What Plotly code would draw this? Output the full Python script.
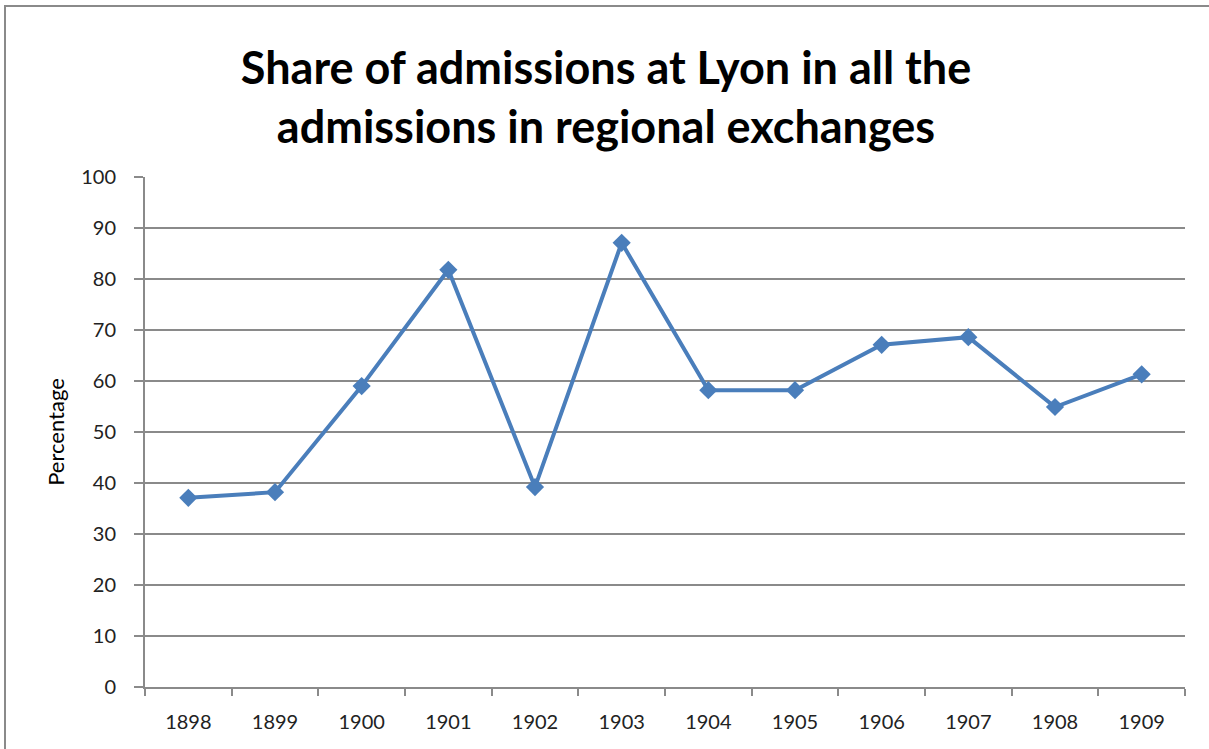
import plotly.graph_objects as go

years = ["1898", "1899", "1900", "1901", "1902", "1903", "1904", "1905", "1906", "1907", "1908", "1909"]
percentage = [37.1, 38.2, 59.0, 81.8, 39.2, 87.1, 58.2, 58.2, 67.1, 68.6, 54.9, 61.3]
y_ticks = [0, 10, 20, 30, 40, 50, 60, 70, 80, 90, 100]

W, H = 1209, 749
L, R, T, B = 145, 24, 177, 62
pw, ph = W - L - R, H - T - B

fig = go.Figure()
fig.add_trace(go.Scatter(
    x=years, y=percentage, mode="lines+markers",
    line=dict(color="#4A7EBB", width=4),
    marker=dict(symbol="diamond", size=14, color="#4A7EBB"),
    showlegend=False, cliponaxis=False,
))

font_family = "Lato, 'Open Sans', sans-serif"

fig.update_layout(
    width=W, height=H,
    margin=dict(l=L, r=R, t=T, b=B),
    paper_bgcolor="white", plot_bgcolor="white",
    font=dict(family=font_family, color="#222222"),
    title=dict(
        text="<b>Share of admissions at Lyon in all the<br>admissions in regional exchanges</b>",
        x=606 / W, xanchor="center", xref="container",
        y=1 - 84 / H, yanchor="middle", yref="container",
        font=dict(size=45, color="#000000", family=font_family),
    ),
    xaxis=dict(
        type="category", tickson="boundaries",
        range=[-0.5, len(years) - 0.5],
        showline=True, linecolor="#8a8a8a", linewidth=2,
        ticks="outside", ticklen=7, tickcolor="#8a8a8a", tickwidth=1.5,
        showgrid=False, ticklabelstandoff=16,
        tickfont=dict(size=20, color="#222222"),
    ),
    yaxis=dict(
        range=[0, 100], tickvals=y_ticks,
        showline=True, linecolor="#8a8a8a", linewidth=2,
        ticks="outside", ticklen=9, tickcolor="#8a8a8a", tickwidth=1.5,
        showgrid=True, gridcolor="#8a8a8a", gridwidth=1.5,
        zeroline=False, ticklabelstandoff=14,
        tickfont=dict(size=20, color="#222222"),
        title=dict(text="Percentage", font=dict(size=22, color="#000000"), standoff=10),
    ),
    shapes=[dict(
        type="rect", xref="paper", yref="paper",
        x0=(5 - L) / pw, x1=1.2, y0=-0.3, y1=(H - B - 6) / ph,
        line=dict(color="#8a8a8a", width=2), fillcolor="rgba(0,0,0,0)", layer="below",
    )],
)

fig.write_html(
    "out.html",
    config={"displayModeBar": False},
    post_script="document.body.style.margin='0';document.body.style.overflow='hidden';",
)
